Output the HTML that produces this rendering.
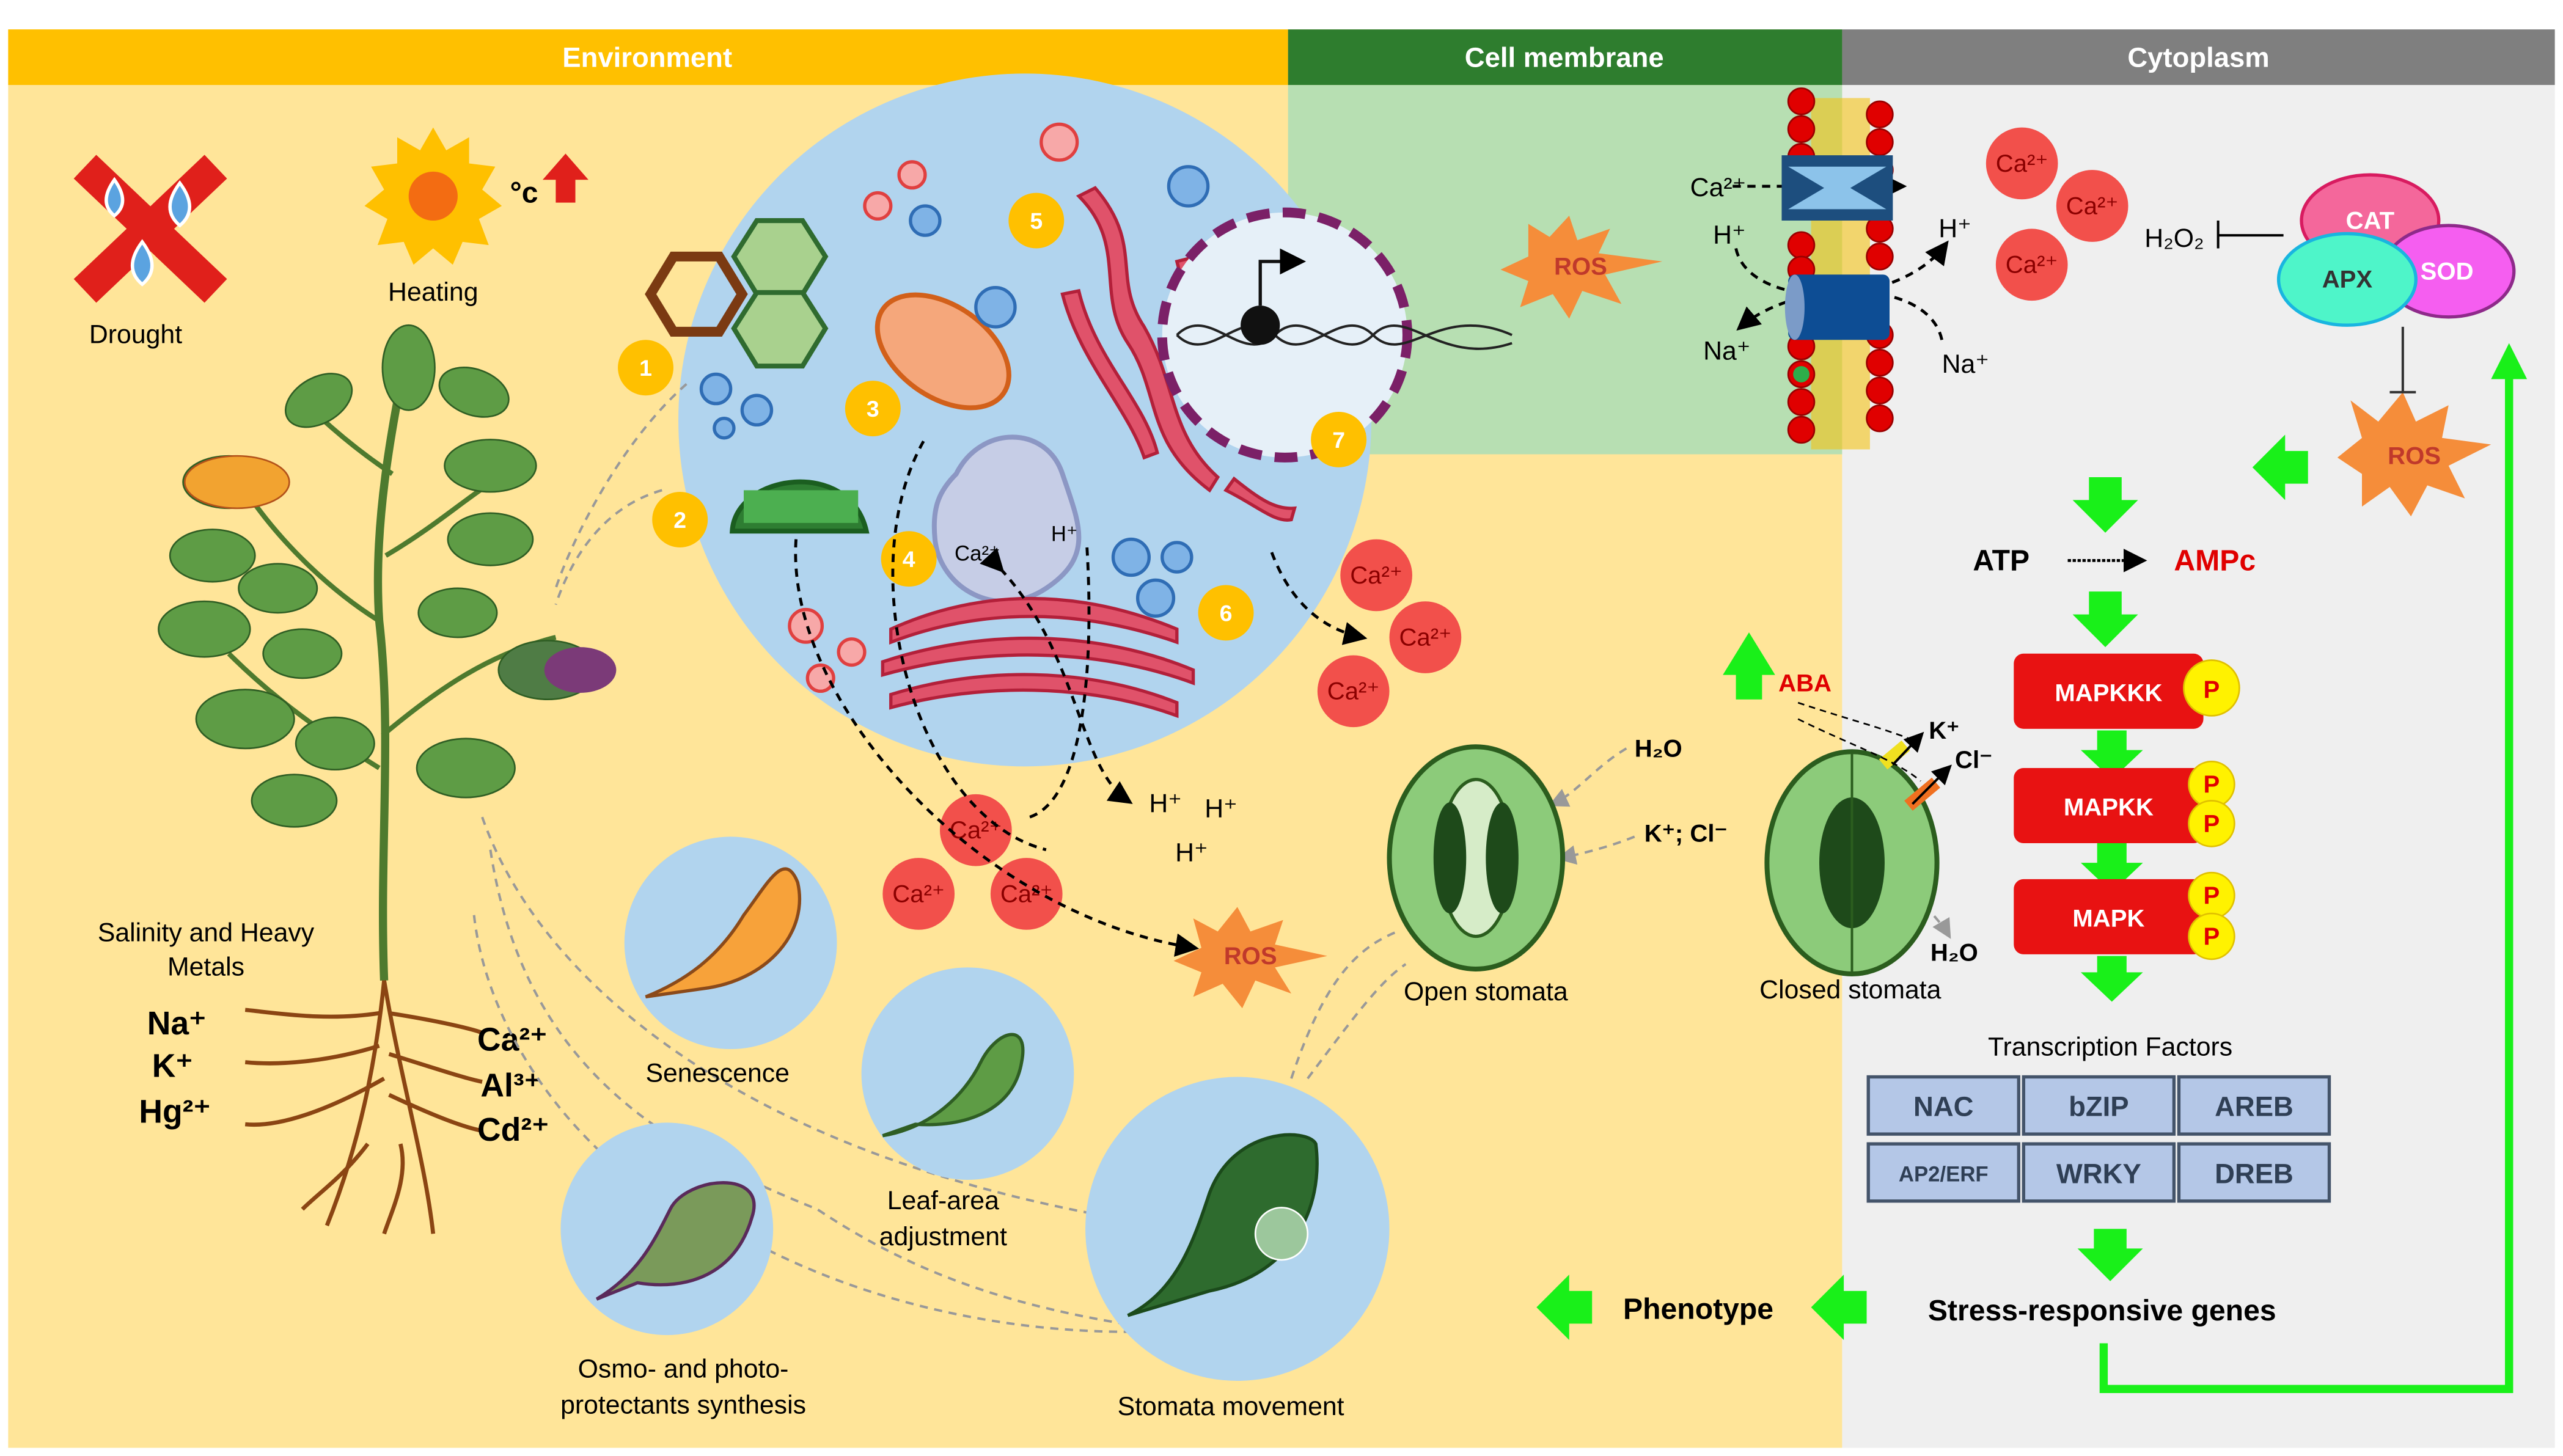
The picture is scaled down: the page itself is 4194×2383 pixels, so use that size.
<!DOCTYPE html>
<html><head><meta charset="utf-8"><style>
html,body{margin:0;padding:0;background:#fff}
svg{display:block}
text{font-family:"Liberation Sans",sans-serif}
</style></head><body>
<svg width="4194" height="2383" viewBox="0 0 1568 891" preserveAspectRatio="none" xmlns="http://www.w3.org/2000/svg">
<defs>
<marker id="ah" markerWidth="8" markerHeight="8" refX="6" refY="4" orient="auto"><path d="M0,0 L8,4 L0,8 z" fill="#000"/></marker>
<marker id="ahg" markerWidth="8" markerHeight="8" refX="6" refY="4" orient="auto"><path d="M0,0 L8,4 L0,8 z" fill="#999"/></marker>
</defs>
<rect width="1568" height="891" fill="#fff"/>
<!-- panels -->
<rect x="5" y="18" width="1122" height="868" fill="#FFE599"/>
<rect x="788" y="52" width="339" height="226" fill="#B7DFB2"/>
<rect x="1127" y="18" width="436" height="868" fill="#EFEFEF"/>
<rect x="5" y="18" width="783" height="34" fill="#FFC000"/>
<rect x="788" y="18" width="339" height="34" fill="#2E7D2E"/>
<rect x="1127" y="18" width="436" height="34" fill="#7F7F7F"/>
<text x="396" y="41" fill="#fff" font-size="17" font-weight="bold" text-anchor="middle">Environment</text>
<text x="957" y="41" fill="#fff" font-size="17" font-weight="bold" text-anchor="middle">Cell membrane</text>
<text x="1345" y="41" fill="#fff" font-size="17" font-weight="bold" text-anchor="middle">Cytoplasm</text>

<!-- drought -->
<g transform="translate(92,140)">
<path d="M-40,-38 L40,38 M40,-38 L-40,38" stroke="#E0201B" stroke-width="20"/>
<path d="M-22,-30 q10,14 0,22 q-10,-8 0,-22z" fill="#5BA3E0" stroke="#fff" stroke-width="2"/>
<path d="M18,-28 q12,16 0,26 q-12,-10 0,-26z" fill="#5BA3E0" stroke="#fff" stroke-width="2"/>
<path d="M-5,8 q12,16 0,26 q-12,-10 0,-26z" fill="#5BA3E0" stroke="#fff" stroke-width="2"/>
</g>
<text x="83" y="210" font-size="16" text-anchor="middle">Drought</text>
<!-- sun -->
<g transform="translate(265,120)">
<polygon points="0,-42 8,-28 22,-36 22,-20 38,-18 30,-4 42,6 28,14 34,30 18,28 12,42 0,32 -12,42 -18,28 -34,30 -28,14 -42,6 -30,-4 -38,-18 -22,-20 -22,-36 -8,-28" fill="#FFC000"/>
<circle r="24" fill="#FFC000"/><circle r="15" fill="#F36C12"/>
</g>
<text x="312" y="124" font-size="18" font-weight="bold" font-family="Liberation Serif">°c</text>
<path d="M340,124 v-14 h-8 l14,-16 l14,16 h-8 v14z" fill="#E0201B"/>
<text x="265" y="184" font-size="16" text-anchor="middle">Heating</text>

<!-- plant -->
<g stroke="#4E7A2E" stroke-width="5" fill="none">
<path d="M235,600 C232,520 240,450 232,380 C228,320 240,260 250,210"/>
<path d="M232,470 C200,450 170,430 140,400" stroke-width="3"/>
<path d="M234,450 C270,420 300,400 340,390" stroke-width="3"/>
<path d="M232,380 C200,360 170,330 150,300" stroke-width="3"/>
<path d="M236,340 C270,320 290,300 310,290" stroke-width="3"/>
<path d="M240,290 C210,270 190,250 180,240" stroke-width="3"/>
</g>
<g fill="#5E9C45" stroke="#2F5E24" stroke-width="1">
<ellipse cx="250" cy="225" rx="16" ry="26"/>
<ellipse cx="195" cy="245" rx="22" ry="14" transform="rotate(-30 195 245)"/>
<ellipse cx="290" cy="240" rx="22" ry="14" transform="rotate(20 290 240)"/>
<ellipse cx="140" cy="295" rx="28" ry="16"/>
<ellipse cx="300" cy="285" rx="28" ry="16"/>
<ellipse cx="130" cy="340" rx="26" ry="16"/>
<ellipse cx="300" cy="330" rx="26" ry="16"/>
<ellipse cx="170" cy="360" rx="24" ry="15"/>
<ellipse cx="125" cy="385" rx="28" ry="17"/>
<ellipse cx="185" cy="400" rx="24" ry="15"/>
<ellipse cx="280" cy="375" rx="24" ry="15"/>
<ellipse cx="335" cy="410" rx="30" ry="18" fill="#4F7C45"/>
<ellipse cx="150" cy="440" rx="30" ry="18"/>
<ellipse cx="205" cy="455" rx="24" ry="16"/>
<ellipse cx="285" cy="470" rx="30" ry="18"/>
<ellipse cx="180" cy="490" rx="26" ry="16"/>
</g>
<ellipse cx="145" cy="295" rx="32" ry="16" fill="#F2A330" stroke="#B3521A"/>
<ellipse cx="355" cy="410" rx="22" ry="14" fill="#7B3A78"/>
<text x="126" y="576" font-size="16" text-anchor="middle">Salinity and Heavy</text>
<text x="126" y="597" font-size="16" text-anchor="middle">Metals</text>
<g stroke="#8B4513" stroke-width="2.5" fill="none">
<path d="M235,600 C230,650 220,700 200,750"/>
<path d="M235,600 C245,660 260,710 265,755"/>
<path d="M232,620 C200,625 170,620 150,618"/>
<path d="M232,640 C200,650 170,652 150,650"/>
<path d="M235,660 C200,680 170,690 150,688"/>
<path d="M238,620 C270,625 290,630 295,632"/>
<path d="M238,645 C270,655 285,660 295,662"/>
<path d="M238,670 C270,685 285,690 295,692"/>
<path d="M225,700 C210,720 195,730 185,740"/>
<path d="M245,700 C250,720 240,740 235,755"/>
</g>
<g font-family="Liberation Serif" font-weight="bold" font-size="20">
<text x="90" y="633">Na⁺</text><text x="93" y="659">K⁺</text><text x="85" y="687">Hg²⁺</text>
<text x="292" y="643">Ca²⁺</text><text x="294" y="671">Al³⁺</text><text x="292" y="698">Cd²⁺</text>
</g>

<!-- cell -->
<circle cx="627" cy="257" r="212" fill="#B1D4EE"/>
<g stroke="#5A3A12" stroke-width="4" fill="#A9D18E">
<polygon points="398,180 412,157 440,157 454,180 440,203 412,203" fill="none" stroke="#7B3A12" stroke-width="6"/>
<polygon points="449,157 463,135 491,135 505,157 491,180 463,180" stroke="#2F6B2F" stroke-width="3"/>
<polygon points="449,201 463,179 491,179 505,201 491,224 463,224" stroke="#2F6B2F" stroke-width="3"/>
</g>
<ellipse cx="577" cy="215" rx="45" ry="28" transform="rotate(35 577 215)" fill="#F5A77B" stroke="#D2601A" stroke-width="3"/>
<path d="M585,290 C600,260 640,260 650,290 C660,320 670,340 640,360 C610,380 575,360 572,330 C570,310 575,300 585,290z" fill="#C6CDE6" stroke="#8C97C4" stroke-width="3"/>
<path d="M448,325 C450,290 520,280 530,325z" fill="#2E7D32" stroke="#1B5E20" stroke-width="3"/>
<rect x="455" y="300" width="70" height="20" fill="#4CAF50"/>
<g fill="#E0526A" stroke="#B3203A" stroke-width="2">
<path d="M545,385 C600,360 660,360 720,385 l0,8 C660,372 600,372 545,393z"/>
<path d="M540,405 C600,385 670,385 730,410 l0,8 C670,396 600,396 540,413z"/>
<path d="M545,425 C600,408 665,408 720,430 l0,8 C665,418 600,418 545,433z"/>
<path d="M660,120 C690,150 670,180 690,210 C710,240 700,270 740,300 l5,-8 C715,265 720,235 700,200 C680,170 700,150 670,115z"/>
<path d="M650,180 C660,220 690,250 700,280 l8,-3 C700,245 670,220 660,178z"/>
<path d="M720,160 C730,200 750,230 760,260 l7,-3 C760,225 740,200 728,158z"/>
<path d="M750,300 C770,310 780,320 790,318 l2,-7 C780,312 770,305 755,293z"/>
</g>
<g fill="#7FB3E6" stroke="#2F6DB5" stroke-width="2">
<circle cx="566" cy="135" r="9"/><circle cx="609" cy="188" r="12"/><circle cx="727" cy="114" r="12"/>
<circle cx="438" cy="238" r="9"/><circle cx="463" cy="251" r="9"/><circle cx="443" cy="262" r="6"/>
<circle cx="692" cy="341" r="11"/><circle cx="720" cy="341" r="9"/><circle cx="707" cy="366" r="11"/>
</g>
<g fill="#F7A8A8" stroke="#E04040" stroke-width="2">
<circle cx="648" cy="87" r="11"/><circle cx="558" cy="107" r="8"/><circle cx="537" cy="126" r="8"/>
<circle cx="493" cy="383" r="10"/><circle cx="521" cy="399" r="8"/><circle cx="502" cy="415" r="8"/>
</g>
<!-- nucleus -->
<circle cx="786" cy="205" r="75" fill="#E6F0F8" stroke="#7B2067" stroke-width="6" stroke-dasharray="14 8"/>
<path d="M720,205 C740,185 760,225 780,205 C800,185 820,225 840,205 C860,185 880,225 925,210" stroke="#222" fill="none" stroke-width="1.5"/>
<path d="M720,205 C740,225 760,185 780,205 C800,225 820,185 840,205 C860,225 880,185 925,205" stroke="#222" fill="none" stroke-width="1.5"/>
<circle cx="771" cy="199" r="12" fill="#111"/>
<path d="M771,187 V160 H795" stroke="#111" stroke-width="2" fill="none" marker-end="url(#ah)"/>
<!-- number badges -->
<g fill="#FFC000"><circle cx="395" cy="225" r="17"/><circle cx="416" cy="318" r="17"/><circle cx="534" cy="250" r="17"/><circle cx="556" cy="342" r="17"/><circle cx="634" cy="135" r="17"/><circle cx="750" cy="375" r="17"/><circle cx="819" cy="269" r="17"/></g>
<g fill="#fff" font-size="14" font-weight="bold" text-anchor="middle">
<text x="395" y="230">1</text><text x="416" y="323">2</text><text x="534" y="255">3</text><text x="556" y="347">4</text><text x="634" y="140">5</text><text x="750" y="380">6</text><text x="819" y="274">7</text></g>
<text x="584" y="343" font-size="13">Ca²⁺</text><text x="643" y="331" font-size="13">H⁺</text>
<!-- Ca circles -->
<g fill="#F2504B"><circle cx="842" cy="352" r="22"/><circle cx="872" cy="390" r="22"/><circle cx="828" cy="423" r="22"/>
<circle cx="597" cy="508" r="22"/><circle cx="562" cy="547" r="22"/><circle cx="628" cy="547" r="22"/>
<circle cx="1237" cy="100" r="22"/><circle cx="1280" cy="126" r="22"/><circle cx="1243" cy="162" r="22"/></g>
<g fill="#8B0000" font-size="15" text-anchor="middle">
<text x="842" y="357">Ca²⁺</text><text x="872" y="395">Ca²⁺</text><text x="828" y="428">Ca²⁺</text>
<text x="597" y="513">Ca²⁺</text><text x="562" y="552">Ca²⁺</text><text x="628" y="552">Ca²⁺</text>
<text x="1237" y="105">Ca²⁺</text><text x="1280" y="131">Ca²⁺</text><text x="1243" y="167">Ca²⁺</text></g>
<g font-size="16"><text x="703" y="497">H⁺</text><text x="737" y="500">H⁺</text><text x="719" y="527">H⁺</text></g>
<!-- dashed connectors -->
<g stroke="#000" stroke-width="1.8" fill="none" stroke-dasharray="5 4">
<path d="M487,330 C480,430 600,560 730,580" marker-end="url(#ah)"/>
<path d="M565,270 C520,350 560,500 640,520"/>
<path d="M612,348 C660,400 660,470 690,490" marker-start="url(#ah)" marker-end="url(#ah)"/>
<path d="M665,335 C670,420 660,490 630,500"/>
<path d="M778,338 C790,370 810,385 833,390" marker-end="url(#ah)"/>
<path d="M1060,114 H1163" marker-end="url(#ah)"/>
<path d="M1062,152 C1070,190 1160,190 1190,150" marker-end="url(#ah)"/>
<path d="M1188,208 C1180,170 1100,170 1065,200" marker-end="url(#ah)"/>
<path d="M1265,343 H1310" stroke-dasharray="2 1" marker-end="url(#ah)"/>
</g>
<g stroke="#999" stroke-width="1.5" fill="none" stroke-dasharray="5 4">
<path d="M420,235 C380,270 350,330 340,360"/><path d="M405,300 C370,310 350,340 340,370"/>
<path d="M295,500 C330,600 450,700 665,742"/><path d="M300,520 C320,650 400,700 500,740 C560,780 620,800 700,812"/>
<path d="M290,560 C300,650 380,740 470,765"/><path d="M470,765 C540,800 620,815 690,815"/>
<path d="M790,660 C810,600 830,580 855,570"/><path d="M800,660 C830,620 845,600 860,590"/>
<path d="M995,458 C975,470 965,485 950,492" marker-end="url(#ahg)"/>
<path d="M1000,512 C985,518 970,522 955,525" marker-end="url(#ahg)"/>
<path d="M1165,530 C1170,550 1185,560 1192,572" marker-end="url(#ahg)"/>
</g>
<!-- ROS stars -->
<g fill="#F58D3A">
<polygon points="935,137 948,145 960,132 965,147 985,140 978,155 1017,160 982,168 992,186 968,178 960,195 950,180 930,188 935,172 918,165 935,157"/>
<polygon points="1438,245 1455,258 1470,240 1478,258 1498,248 1494,268 1524,272 1498,285 1508,305 1485,297 1475,316 1462,298 1445,310 1445,290 1430,280 1445,268"/>
<polygon points="730,562 745,570 757,555 765,570 785,563 780,578 812,585 780,592 790,608 768,600 760,617 748,602 730,610 735,595 718,588 735,580"/>
</g>
<g fill="#C0392B" font-size="15" font-weight="bold" text-anchor="middle"><text x="967" y="168">ROS</text><text x="1477" y="284">ROS</text><text x="765" y="590">ROS</text></g>
<!-- membrane -->
<g fill="#F3C316"><rect x="1108" y="60" width="36" height="215" opacity="0.6"/></g>
<g fill="#E00000" stroke="#900" stroke-width="1">
<circle cx="1102" cy="62" r="8"/><circle cx="1102" cy="79" r="8"/><circle cx="1102" cy="96" r="8"/>
<circle cx="1150" cy="70" r="8"/><circle cx="1150" cy="87" r="8"/><circle cx="1150" cy="104" r="8"/>
<circle cx="1102" cy="150" r="8"/><circle cx="1102" cy="165" r="8"/><circle cx="1150" cy="140" r="8"/><circle cx="1150" cy="157" r="8"/>
<circle cx="1102" cy="212" r="8"/><circle cx="1102" cy="229" r="8"/><circle cx="1102" cy="246" r="8"/><circle cx="1102" cy="263" r="8"/>
<circle cx="1150" cy="205" r="8"/><circle cx="1150" cy="222" r="8"/><circle cx="1150" cy="239" r="8"/><circle cx="1150" cy="256" r="8"/>
</g>
<circle cx="1102" cy="229" r="5" fill="#2EAE4A"/>
<path d="M1090,95 h68 v40 h-68z" fill="#1D4E7E"/>
<path d="M1094,102 h60 l-22,13 l22,13 h-60 l22,-13z" fill="#8CC3EA"/>
<rect x="1094" y="168" width="62" height="40" fill="#0D4D94" rx="4"/>
<ellipse cx="1098" cy="188" rx="6" ry="20" fill="#7B9BC8"/>
<g font-size="16"><text x="1034" y="120">Ca²⁺</text><text x="1048" y="149">H⁺</text><text x="1186" y="145">H⁺</text><text x="1042" y="220">Na⁺</text><text x="1188" y="228">Na⁺</text>
<text x="1312" y="151">H₂O₂</text></g>
<path d="M1357,135 V152 M1357,144 H1397" stroke="#000" stroke-width="1.5"/>
<ellipse cx="1450" cy="135" rx="42" ry="28" fill="#F4679B" stroke="#D81B60" stroke-width="2"/>
<ellipse cx="1498" cy="166" rx="40" ry="28" fill="#F55EF0" stroke="#8E2A8A" stroke-width="2"/>
<ellipse cx="1436" cy="171" rx="42" ry="28" fill="#4EF5C9" stroke="#19B5E0" stroke-width="2"/>
<g font-size="15" font-weight="bold" text-anchor="middle"><text x="1450" y="140" fill="#fff">CAT</text><text x="1497" y="171" fill="#fff">SOD</text><text x="1436" y="176" fill="#333">APX</text></g>
<path d="M1470,200 V240 M1462,240 H1478" stroke="#333" stroke-width="1.5"/>
<!-- green arrows -->
<g fill="#19F019">
<path d="M1278,292 h20 v14 h10 l-20,20 l-20,-20 h10z"/>
<path d="M1278,362 h20 v14 h10 l-20,20 l-20,-20 h10z"/>
<path d="M1283,447 h18 v12 h10 l-19,18 l-19,-18 h10z"/>
<path d="M1283,516 h18 v12 h10 l-19,18 l-19,-18 h10z"/>
<path d="M1283,585 h18 v10 h10 l-19,18 l-19,-18 h10z"/>
<path d="M1281,752 h20 v12 h10 l-20,20 l-20,-20 h10z"/>
<path d="M1412,276 v20 h-14 v10 l-20,-20 l20,-20 v10z"/>
<path d="M1142,790 v20 h-14 v10 l-20,-20 l20,-20 v10z"/>
<path d="M974,790 v20 h-14 v10 l-20,-20 l20,-20 v10z"/>
<path d="M1062,428 v-15 h-8 l16,-26 l16,26 h-8 v15z"/>
</g>
<path d="M1287,822 V850 H1535 V225" stroke="#19F019" stroke-width="5" fill="none"/>
<path d="M1524,232 l11,-22 l11,22z" fill="#19F019"/>
<text x="1207" y="349" font-size="18" font-weight="bold">ATP</text>
<text x="1330" y="349" font-size="18" font-weight="bold" fill="#E00000">AMPc</text>
<!-- MAPK -->
<g>
<rect x="1232" y="400" width="116" height="46" rx="6" fill="#E81212"/>
<rect x="1232" y="470" width="116" height="46" rx="6" fill="#E81212"/>
<rect x="1232" y="538" width="116" height="46" rx="6" fill="#E81212"/>
<g fill="#FFF200" stroke="#E0C000"><circle cx="1353" cy="421" r="17"/><circle cx="1353" cy="480" r="14"/><circle cx="1353" cy="504" r="14"/><circle cx="1353" cy="548" r="14"/><circle cx="1353" cy="573" r="14"/></g>
<g fill="#E00000" font-weight="bold" font-size="15" text-anchor="middle"><text x="1353" y="427">P</text><text x="1353" y="485">P</text><text x="1353" y="509">P</text><text x="1353" y="553">P</text><text x="1353" y="578">P</text></g>
<g fill="#fff" font-weight="bold" font-size="15" text-anchor="middle"><text x="1290" y="429">MAPKKK</text><text x="1290" y="499">MAPKK</text><text x="1290" y="567">MAPK</text></g>
</g>
<text x="1291" y="646" font-size="16" text-anchor="middle">Transcription Factors</text>
<g fill="#B4C7E7" stroke="#44546A" stroke-width="2">
<rect x="1143" y="659" width="92" height="35"/><rect x="1238" y="659" width="92" height="35"/><rect x="1333" y="659" width="92" height="35"/>
<rect x="1143" y="700" width="92" height="35"/><rect x="1238" y="700" width="92" height="35"/><rect x="1333" y="700" width="92" height="35"/>
</g>
<g fill="#2F3F55" font-weight="bold" font-size="17" text-anchor="middle">
<text x="1189" y="683">NAC</text><text x="1284" y="683">bZIP</text><text x="1379" y="683">AREB</text>
<text x="1189" y="723" font-size="13">AP2/ERF</text><text x="1284" y="724">WRKY</text><text x="1379" y="724">DREB</text></g>
<text x="1286" y="808" font-size="18" font-weight="bold" text-anchor="middle">Stress-responsive genes</text>
<text x="1039" y="807" font-size="18" font-weight="bold" text-anchor="middle">Phenotype</text>
<!-- stomata -->
<ellipse cx="903" cy="525" rx="53" ry="68" fill="#8CCB7A" stroke="#2B5D1E" stroke-width="3"/>
<ellipse cx="903" cy="525" rx="22" ry="48" fill="#D6ECC8" stroke="#2B5D1E" stroke-width="2"/>
<ellipse cx="887" cy="525" rx="10" ry="34" fill="#1E4A1A"/><ellipse cx="919" cy="525" rx="10" ry="34" fill="#1E4A1A"/>
<text x="909" y="612" font-size="16" text-anchor="middle">Open stomata</text>
<ellipse cx="1133" cy="528" rx="52" ry="68" fill="#8CCB7A" stroke="#2B5D1E" stroke-width="3"/>
<ellipse cx="1133" cy="528" rx="20" ry="40" fill="#1E4A1A"/>
<path d="M1133,460 V596" stroke="#2B5D1E" stroke-width="1.5"/>
<text x="1132" y="611" font-size="16" text-anchor="middle">Closed stomata</text>
<rect x="1150" y="458" width="18" height="8" fill="#F0E020" transform="rotate(-40 1159 462)"/>
<rect x="1165" y="482" width="22" height="8" fill="#F07020" transform="rotate(-40 1176 486)"/>
<path d="M1100,430 C1130,440 1150,445 1168,452" stroke="#000" stroke-dasharray="4 3" fill="none"/>
<path d="M1100,440 C1130,455 1160,465 1175,478" stroke="#000" stroke-dasharray="4 3" fill="none"/>
<path d="M1158,468 L1175,450" stroke="#000" stroke-width="1.5" marker-end="url(#ah)"/>
<path d="M1170,492 L1192,470" stroke="#000" stroke-width="1.5" marker-end="url(#ah)"/>
<text x="1088" y="423" font-size="15" font-weight="bold" fill="#E00000">ABA</text>
<g font-size="15" font-weight="bold"><text x="1180" y="452">K⁺</text><text x="1196" y="470">Cl⁻</text><text x="1181" y="588">H₂O</text>
<text x="1000" y="463">H₂O</text><text x="1006" y="515">K⁺; Cl⁻</text></g>
<!-- bottom circles -->
<g fill="#B1D4EE"><circle cx="447" cy="577" r="65"/><circle cx="592" cy="657" r="65"/><circle cx="408" cy="752" r="65"/><circle cx="757" cy="752" r="93"/></g>
<path d="M395,610 C420,600 440,585 455,560 C470,540 480,520 488,540 C495,570 470,600 430,605z" fill="#F7A23A" stroke="#8B4A1A" stroke-width="2"/>
<path d="M540,695 C570,690 590,670 600,650 C610,630 630,625 625,650 C620,680 590,690 560,688z" fill="#5E9C45" stroke="#2F5E24" stroke-width="2"/>
<path d="M365,795 C390,780 400,760 410,740 C420,720 470,715 460,745 C450,780 420,790 390,785z" fill="#7A9A5A" stroke="#5A2A5A" stroke-width="2"/>
<path d="M690,805 C720,790 730,760 740,730 C755,690 800,690 805,700 C810,740 790,780 740,790z" fill="#2E6B2E" stroke="#1B4A1B" stroke-width="2"/>
<circle cx="784" cy="755" r="16" fill="#9CC79C" stroke="#fff"/>
<text x="439" y="662" font-size="16" text-anchor="middle">Senescence</text>
<text x="577" y="740" font-size="16" text-anchor="middle">Leaf-area</text>
<text x="577" y="762" font-size="16" text-anchor="middle">adjustment</text>
<text x="418" y="843" font-size="16" text-anchor="middle">Osmo- and photo-</text>
<text x="418" y="865" font-size="16" text-anchor="middle">protectants synthesis</text>
<text x="753" y="866" font-size="16" text-anchor="middle">Stomata movement</text>
</svg>
</body></html>
